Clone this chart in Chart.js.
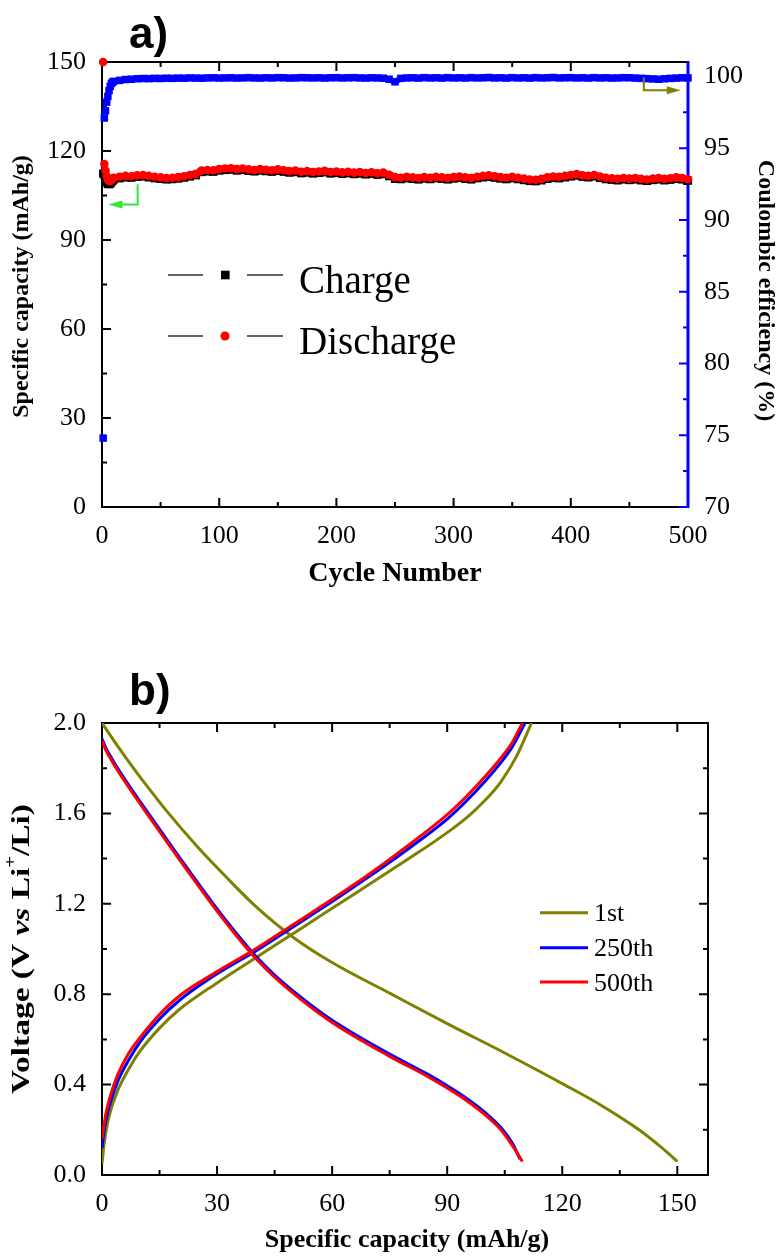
<!DOCTYPE html>
<html><head><meta charset="utf-8">
<script src="https://cdn.jsdelivr.net/npm/chart.js@4/dist/chart.umd.min.js"></script>
<style>
html,body{margin:0;padding:0;background:#fff;width:783px;height:1258px;overflow:hidden}
#ca{position:absolute;left:0;top:0}
#cb{position:absolute;left:0;top:615px}
</style></head><body>
<canvas id="ca" width="783" height="610"></canvas>
<canvas id="cb" width="783" height="643"></canvas>
<script>
const SERIF = '"Liberation Serif", "Times New Roman", serif';
const SANS = '"Liberation Sans", Arial, sans-serif';

// ---------------- Panel a) ----------------
const CYCLE = [1,2,3,4,5,6,7,8,9,10,15,20,25,30,35,40,45,50,55,60,65,70,75,80,85,90,95,100,105,110,115,120,125,130,135,140,145,150,155,160,165,170,175,180,185,190,195,200,205,210,215,220,225,230,235,240,245,250,255,260,265,270,275,280,285,290,295,300,305,310,315,320,325,330,335,340,345,350,355,360,365,370,375,380,385,390,395,400,405,410,415,420,425,430,435,440,445,450,455,460,465,470,475,480,485,490,495,500];
const DISCHARGE = [150,115.6,113.4,111.6,110.4,109.9,109.8,110.2,110.6,111.0,
 111.3,111.6,111.5,111.8,111.9,111.6,111.3,111.1,
 110.9,111.0,111.2,111.5,111.9,112.3,113.4,113.6,113.5,113.9,
 114.1,114.2,113.9,114.1,113.8,113.6,113.9,113.7,113.5,113.8,
 113.5,113.2,113.4,113.0,113.2,112.9,113.1,113.3,112.9,113.1,
 112.8,113.0,112.7,112.9,112.6,112.8,112.5,112.7,112.0,111.2,
 111.0,111.3,111.1,110.9,111.2,111.0,111.3,111.1,110.9,111.2,
 111.4,111.1,110.9,111.3,111.6,111.8,111.5,111.2,111.0,111.3,
 111.0,110.7,110.4,110.3,110.6,111.1,111.4,111.3,111.6,111.9,
 112.2,111.8,111.6,111.9,111.4,111.0,110.8,110.6,110.9,110.7,
 110.9,110.6,110.4,110.7,110.9,110.6,110.8,111.1,110.9,110.5];
const CHARGE = [112.4,112.0,110.6,109.4,108.9,108.8,109.0,109.5,110.0,110.4,
 110.8,111.1,111.0,111.3,111.4,111.1,110.8,110.6,
 110.4,110.5,110.7,111.0,111.4,111.8,112.9,113.1,113.0,113.4,
 113.6,113.7,113.4,113.6,113.3,113.1,113.4,113.2,113.0,113.3,
 113.0,112.7,112.9,112.5,112.7,112.4,112.6,112.8,112.4,112.6,
 112.3,112.5,112.2,112.4,112.1,112.3,112.0,112.2,111.5,110.6,
 110.5,110.8,110.6,110.4,110.7,110.5,110.8,110.6,110.4,110.7,
 110.9,110.6,110.4,110.8,111.1,111.3,111.0,110.7,110.5,110.8,
 110.5,110.2,109.9,109.8,110.1,110.6,110.9,110.8,111.1,111.4,
 111.7,111.3,111.1,111.4,110.9,110.5,110.3,110.1,110.4,110.2,
 110.4,110.1,109.9,110.2,110.4,110.1,110.3,110.6,110.4,110.0];
const COULOMBIC = [74.8,97.1,97.6,98.2,98.6,99.0,99.3,99.5,99.6,99.65,
 99.72,99.78,99.80,99.83,99.85,99.84,99.86,99.85,
 99.87,99.86,99.88,99.87,99.89,99.88,99.87,99.89,99.90,99.88,
 99.89,99.90,99.88,99.89,99.91,99.89,99.88,99.90,99.89,99.91,
 99.90,99.88,99.89,99.91,99.90,99.89,99.90,99.88,99.90,99.91,
 99.89,99.90,99.91,99.89,99.88,99.90,99.89,99.87,99.80,99.62,
 99.86,99.89,99.90,99.88,99.91,99.89,99.90,99.88,99.91,99.89,
 99.90,99.88,99.91,99.89,99.90,99.92,99.89,99.90,99.88,99.91,
 99.89,99.90,99.88,99.91,99.89,99.90,99.92,99.89,99.90,99.91,
 99.89,99.90,99.88,99.91,99.89,99.90,99.88,99.89,99.91,99.90,
 99.88,99.86,99.84,99.82,99.80,99.83,99.86,99.88,99.90,99.89];
const A_X_TICKS = [0,100,200,300,400,500];
const A_Y_TICKS = [0,30,60,90,120,150];
const A_Y2_TICKS = [70,75,80,85,90,95,100];
const A_LEGEND = ['Charge','Discharge'];
const A_SERIES_COLORS = ['#000000','#ff0000','#0000ff'];

// ---------------- Panel b) ----------------
const CAP_1ST_CH = [0,0.5,1,2,4,7,10,15,20,30,40,50,60,70,80,90,96,100,104,108,112];
const V_1ST_CH   = [0.05,0.13,0.19,0.27,0.37,0.47,0.55,0.65,0.73,0.85,0.96,1.07,1.18,1.29,1.40,1.515,1.595,1.66,1.74,1.85,2.0];
const CAP_250_CH = [0,0.5,1,2,4,7,10,15,20,30,40,50,60,70,80,90,95,100,104,107,110.3];
const V_250_CH   = [0.12,0.19,0.24,0.31,0.41,0.51,0.59,0.69,0.77,0.89,0.99,1.10,1.21,1.325,1.445,1.575,1.655,1.745,1.825,1.895,2.0];
const CAP_500_CH = [0,0.5,1,2,4,7,10,15,20,30,40,50,60,70,80,90,95,100,104,107,109.6];
const V_500_CH   = [0.16,0.22,0.27,0.34,0.44,0.54,0.61,0.71,0.79,0.90,1.00,1.11,1.22,1.335,1.46,1.595,1.675,1.765,1.845,1.915,2.0];
const CAP_1ST_DIS = [0,4,8,12,16.4,25,32,40,50,60,75.5,90,105,120.5,130,140,146,150];
const V_1ST_DIS   = [2.0,1.90,1.805,1.715,1.62,1.45,1.325,1.19,1.05,0.94,0.80,0.67,0.54,0.40,0.31,0.20,0.12,0.06];
const CAP_250_DIS = [0,1,3,6,12.5,20,29,35,40,45,52,60,75,85,90,95,100,104,107,109];
const V_250_DIS   = [1.93,1.89,1.83,1.75,1.59,1.41,1.20,1.07,0.97,0.885,0.785,0.685,0.535,0.445,0.395,0.34,0.275,0.21,0.14,0.07];
const CAP_500_DIS = [0,1,3,6,12.5,20,29,35,40,45,52,60,75,85,90,95,100,104,107,109.6];
const V_500_DIS   = [1.92,1.88,1.82,1.74,1.58,1.40,1.19,1.06,0.96,0.875,0.775,0.675,0.525,0.435,0.385,0.33,0.265,0.20,0.13,0.06];
const B_X_TICKS = [0,30,60,90,120,150];
const B_Y_TICKS = [0,0.4,0.8,1.2,1.6,2.0];
const B_LEGEND = ['1st','250th','500th'];
const B_COLORS = ['#808000','#0000ff','#ff0000'];

// ---------------- helpers ----------------
const pts = (xs, ys) => xs.map((v,i)=>({x:v, y:ys[i]}));
function minorsOf(m){const r=[];for(let i=0;i<m.length-1;i++)r.push((m[i]+m[i+1])/2);return r;}
function vTicks(ctx, scale, majors, x, dir){
  ctx.beginPath();
  const d=(v,len)=>{const p=scale.getPixelForValue(v);ctx.moveTo(x,p);ctx.lineTo(x+dir*len,p);};
  majors.forEach(v=>d(v,9)); minorsOf(majors).forEach(v=>d(v,5));
  ctx.stroke();
}
function hTicks(ctx, scale, majors, y, dir){
  ctx.beginPath();
  const d=(v,len)=>{const p=scale.getPixelForValue(v);ctx.moveTo(p,y);ctx.lineTo(p,y+dir*len);};
  majors.forEach(v=>d(v,9)); minorsOf(majors).forEach(v=>d(v,5));
  ctx.stroke();
}
function rich(ctx, parts, x, y, rot, target){
  ctx.save(); ctx.translate(x,y); ctx.rotate(rot);
  let tot=0; parts.forEach(p=>{ctx.font=p.f; p.w=ctx.measureText(p.t).width; tot+=p.w;});
  if(target) ctx.scale(target/tot,1);
  let cx=-tot/2; ctx.textBaseline='middle'; ctx.textAlign='left'; ctx.fillStyle='#000';
  parts.forEach(p=>{ctx.font=p.f; ctx.fillText(p.t,cx,p.dy||0); cx+=p.w;});
  ctx.restore();
}
const tickFont = {family:SERIF, size:26};
function fixedTicks(arr){return s=>{s.ticks=arr.map(v=>({value:v}));};}

// ---------------- chart a ----------------
const plugA = {
  id:'decorA',
  beforeDatasetsDraw(chart){
    const {ctx, chartArea:{left,right,top,bottom}, scales:{x,y,y2}} = chart;
    ctx.save();
    ctx.strokeStyle='#000'; ctx.lineWidth=2;
    ctx.beginPath(); ctx.moveTo(left,top); ctx.lineTo(left,bottom+1); ctx.moveTo(left-1,bottom); ctx.lineTo(right,bottom);
    ctx.moveTo(left-1,top); ctx.lineTo(right,top); ctx.stroke();
    vTicks(ctx,y,A_Y_TICKS,left,1);
    hTicks(ctx,x,A_X_TICKS,bottom,-1);
    hTicks(ctx,x,A_X_TICKS,top,1);
    ctx.strokeStyle='#0000ff'; ctx.lineWidth=3;
    ctx.beginPath(); ctx.moveTo(right,top-1); ctx.lineTo(right,bottom+1); ctx.stroke();
    ctx.lineWidth=2;
    vTicks(ctx,y2,A_Y2_TICKS,right,-1);
    ctx.restore();
  },
  afterDatasetsDraw(chart){
    const {ctx, chartArea:{left,right,top,bottom}, scales:{x,y,y2}} = chart;
    ctx.save();
    // green arrow (capacity axis)
    const gx=x.getPixelForValue(30.4), gy0=y.getPixelForValue(108.8), gy1=y.getPixelForValue(102), gt=x.getPixelForValue(5.4);
    ctx.strokeStyle='#33e833'; ctx.fillStyle='#33e833'; ctx.lineWidth=2;
    ctx.beginPath(); ctx.moveTo(gx,gy0); ctx.lineTo(gx,gy1); ctx.lineTo(gt+10,gy1); ctx.stroke();
    ctx.beginPath(); ctx.moveTo(gt,gy1); ctx.lineTo(gt+14,gy1-4); ctx.lineTo(gt+14,gy1+4); ctx.closePath(); ctx.fill();
    // olive arrow (efficiency axis)
    const ox=x.getPixelForValue(462.3), oy0=y2.getPixelForValue(99.94), oy1=y2.getPixelForValue(99.03), ot=x.getPixelForValue(493.8);
    ctx.strokeStyle='#808000'; ctx.fillStyle='#808000';
    ctx.beginPath(); ctx.moveTo(ox,oy0); ctx.lineTo(ox,oy1); ctx.lineTo(ot-10,oy1); ctx.stroke();
    ctx.beginPath(); ctx.moveTo(ot,oy1); ctx.lineTo(ot-14,oy1-4); ctx.lineTo(ot-14,oy1+4); ctx.closePath(); ctx.fill();
    // legend
    const rows=[275,336];
    A_LEGEND.forEach((lab,i)=>{
      const ry=rows[i];
      ctx.strokeStyle='#333'; ctx.lineWidth=1.3;
      ctx.beginPath(); ctx.moveTo(168,ry); ctx.lineTo(203,ry); ctx.moveTo(247,ry); ctx.lineTo(283,ry); ctx.stroke();
      ctx.fillStyle = A_SERIES_COLORS[i];
      if(i===0){ctx.fillRect(221,ry-4.3,8.6,8.6);} else {ctx.beginPath();ctx.arc(225,ry,4.6,0,Math.PI*2);ctx.fill();}
      ctx.fillStyle='#000'; ctx.font='39px '+SERIF; ctx.textBaseline='alphabetic'; ctx.textAlign='left';
      ctx.fillText(lab,299,ry+18);
    });
    // panel label
    ctx.font='bold 44px '+SANS; ctx.fillStyle='#000'; ctx.textBaseline='alphabetic';
    ctx.fillText('a)',129,48);
    // axis titles
    const cy=(top+bottom)/2;
    rich(ctx,[{t:'Specific capacity (mAh/g)',f:'bold 24px '+SERIF}],22,cy+2,-Math.PI/2);
    rich(ctx,[{t:'Coulombic efficiency (%)',f:'bold 24px '+SERIF}],765,cy+6,Math.PI/2);
    rich(ctx,[{t:'Cycle Number',f:'bold 28px '+SERIF}],(left+right)/2,574,0);
    ctx.restore();
  }
};

const hideFirst = n => ({borderColor:c=>c.p0DataIndex<n?'rgba(0,0,0,0)':undefined});
new Chart(document.getElementById('ca'),{
  type:'line',
  data:{datasets:[
    {label:'Discharge',data:pts(CYCLE,DISCHARGE),yAxisID:'y',order:1,borderColor:'#ff0000',backgroundColor:'#ff0000',
     borderWidth:6,pointStyle:'circle',pointRadius:4.3,pointBorderWidth:0,pointBackgroundColor:'#ff0000',clip:false,
     segment:hideFirst(1)},
    {label:'Charge',data:pts(CYCLE,CHARGE),yAxisID:'y',order:2,borderColor:'#000000',backgroundColor:'#000000',
     borderWidth:6,pointStyle:'rect',pointRadius:5.8,pointBorderWidth:0,pointBackgroundColor:'#000000',clip:false,
     segment:hideFirst(1)},
    {label:'Coulombic efficiency',data:pts(CYCLE,COULOMBIC),yAxisID:'y2',order:3,borderColor:'#0000ff',backgroundColor:'#0000ff',
     borderWidth:6,pointStyle:'rect',pointRadius:5.3,pointBorderWidth:0,pointBackgroundColor:'#0000ff',clip:false,
     segment:hideFirst(5)}
  ]},
  options:{
    responsive:false,animation:false,devicePixelRatio:1,events:[],
    layout:{padding:{top:62,left:0,right:0,bottom:0}},
    plugins:{legend:{display:false},tooltip:{enabled:false}},
    scales:{
      x:{type:'linear',min:0,max:500,grid:{display:false},border:{display:false},
         ticks:{font:tickFont,color:'#000',padding:6,maxRotation:0},
         afterBuildTicks:fixedTicks(A_X_TICKS),afterFit:s=>{s.height=103;}},
      y:{type:'linear',position:'left',min:0,max:150,grid:{display:false},border:{display:false},
         ticks:{font:tickFont,color:'#000',padding:8},
         afterBuildTicks:fixedTicks(A_Y_TICKS),afterFit:s=>{s.width=102;}},
      y2:{type:'linear',position:'right',min:70,max:101,grid:{display:false},border:{display:false},
         ticks:{font:tickFont,color:'#000',padding:8},
         afterBuildTicks:fixedTicks(A_Y2_TICKS),afterFit:s=>{s.width=95;}}
    }
  },
  plugins:[plugA]
});

// ---------------- chart b ----------------
const plugB = {
  id:'decorB',
  beforeDatasetsDraw(chart){
    const {ctx, chartArea:{left,right,top,bottom}, scales:{x,y}} = chart;
    ctx.save();
    ctx.strokeStyle='#000'; ctx.lineWidth=2;
    ctx.strokeRect(left,top,right-left,bottom-top);
    vTicks(ctx,y,B_Y_TICKS,left,1);
    vTicks(ctx,y,B_Y_TICKS,right,-1);
    hTicks(ctx,x,B_X_TICKS,bottom,-1);
    hTicks(ctx,x,B_X_TICKS,top,1);
    ctx.restore();
  },
  afterDatasetsDraw(chart){
    const {ctx, chartArea:{left,right,top,bottom}} = chart;
    ctx.save();
    const rows=[297.7,332.7,367];
    B_LEGEND.forEach((lab,i)=>{
      ctx.strokeStyle=B_COLORS[i]; ctx.lineWidth=3;
      ctx.beginPath(); ctx.moveTo(540,rows[i]); ctx.lineTo(588,rows[i]); ctx.stroke();
      ctx.fillStyle='#000'; ctx.font='26px '+SERIF; ctx.textBaseline='alphabetic'; ctx.textAlign='left';
      ctx.fillText(lab,594,rows[i]+8.5);
    });
    ctx.font='bold 44px '+SANS; ctx.fillStyle='#000';
    ctx.fillText('b)',129,90);
    rich(ctx,[{t:'Specific capacity (mAh/g)',f:'bold 26px '+SERIF}],(left+right)/2+2,625,0);
    const B='bold 26px '+SERIF;
    rich(ctx,[{t:'Voltage (V ',f:B},{t:'vs',f:'bold italic 26px '+SERIF},{t:' Li',f:B},{t:'+',f:'bold 16px '+SERIF,dy:-10},{t:'/Li)',f:B}],22,(top+bottom)/2,-Math.PI/2,290);
    ctx.restore();
  }
};

const lineDs=(label,xs,ys,color,order)=>({label,data:pts(xs,ys),borderColor:color,backgroundColor:color,borderWidth:3,
  pointRadius:0,cubicInterpolationMode:'monotone',order});
new Chart(document.getElementById('cb'),{
  type:'line',
  data:{datasets:[
    lineDs('500th charge',CAP_500_CH,V_500_CH,B_COLORS[2],1),
    lineDs('500th discharge',CAP_500_DIS,V_500_DIS,B_COLORS[2],1),
    lineDs('250th charge',CAP_250_CH,V_250_CH,B_COLORS[1],2),
    lineDs('250th discharge',CAP_250_DIS,V_250_DIS,B_COLORS[1],2),
    lineDs('1st charge',CAP_1ST_CH,V_1ST_CH,B_COLORS[0],3),
    lineDs('1st discharge',CAP_1ST_DIS,V_1ST_DIS,B_COLORS[0],3)
  ]},
  options:{
    responsive:false,animation:false,devicePixelRatio:1,events:[],
    layout:{padding:{top:108,left:0,right:75,bottom:0}},
    plugins:{legend:{display:false},tooltip:{enabled:false}},
    scales:{
      x:{type:'linear',min:0,max:158,grid:{display:false},border:{display:false},
         ticks:{font:tickFont,color:'#000',padding:6,maxRotation:0},
         afterBuildTicks:fixedTicks(B_X_TICKS),afterFit:s=>{s.height=83;}},
      y:{type:'linear',min:0,max:2,grid:{display:false},border:{display:false},
         ticks:{font:tickFont,color:'#000',padding:8,callback:v=>Number(v).toFixed(1)},
         afterBuildTicks:fixedTicks(B_Y_TICKS),afterFit:s=>{s.width=102;}}
    }
  },
  plugins:[plugB]
});
</script>
</body></html>
